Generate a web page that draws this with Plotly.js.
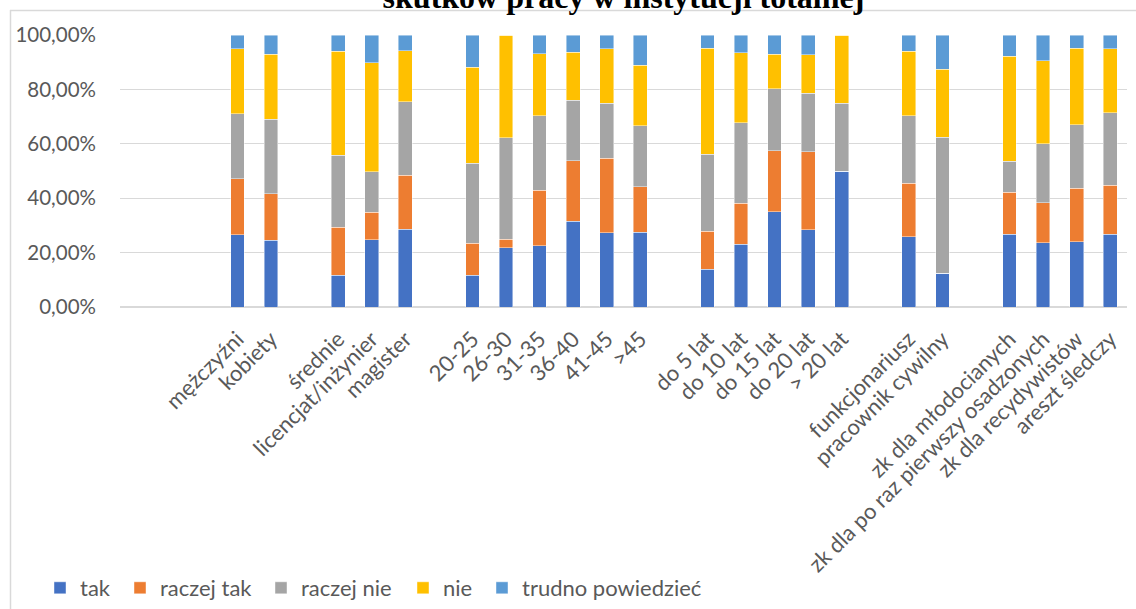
<!DOCTYPE html>
<html>
<head>
<meta charset="utf-8">
<script src="https://cdn.plot.ly/plotly-3.0.1.min.js"></script>
<style>html,body{margin:0;padding:0;background:#fff;}#chart{width:1136px;height:609px;}</style>
</head>
<body>
<div id="chart"></div>
<script>
// Categories (blank strings are the empty gap slots between groups)
var categories = [' ', '  ', '   ', 'mężczyźni', 'kobiety', '    ', 'średnie', 'licencjat/inżynier', 'magister', '     ',
  '20-25', '26-30', '31-35', '36-40', '41-45', '>45', '      ',
  'do 5 lat', 'do 10 lat', 'do 15 lat', 'do 20 lat', '> 20 lat', '       ',
  'funkcjonariusz', 'pracownik cywilny', '        ',
  'zk dla młodocianych', 'zk dla po raz pierwszy osadzonych', 'zk dla recydywistów', 'areszt śledczy'];

var seriesNames = ['tak', 'raczej tak', 'raczej nie', 'nie', 'trudno powiedzieć'];

var tak        = [null, null, null, 26.6, 24.5, null, 11.6, 24.8, 28.6, null, 11.6, 21.7, 22.5, 31.6, 27.3, 27.5, null, 13.8, 23.1, 35.1, 28.4, 50.0, null, 25.9, 12.5, null, 26.7, 23.7, 24.0, 26.7];
var raczejTak  = [null, null, null, 20.6, 17.2, null, 17.7, 10.0, 19.9, null, 11.8, 3.3, 20.5, 22.1, 27.4, 16.7, null, 14.1, 15.1, 22.4, 28.6, 0.0, null, 19.6, 0.0, null, 15.4, 14.7, 19.6, 18.0];
var raczejNie  = [null, null, null, 23.9, 27.3, null, 26.5, 15.0, 27.0, null, 29.4, 37.3, 27.4, 22.4, 20.2, 22.4, null, 28.2, 29.6, 22.7, 21.5, 25.0, null, 24.8, 50.0, null, 11.4, 21.7, 23.4, 26.8];
var nie        = [null, null, null, 23.8, 24.0, null, 38.3, 40.0, 18.7, null, 35.3, 37.7, 22.7, 17.5, 20.0, 22.3, null, 39.1, 25.7, 12.7, 14.3, 25.0, null, 23.8, 25.0, null, 38.7, 30.4, 28.2, 23.4];
var trudno     = [null, null, null, 5.1, 7.0, null, 5.9, 10.2, 5.8, null, 11.9, 0.0, 6.9, 6.4, 5.1, 11.1, null, 4.8, 6.5, 7.1, 7.2, 0.0, null, 5.9, 12.5, null, 7.8, 9.5, 4.8, 5.1];

var yTicks = [0, 20, 40, 60, 80, 100];
var yTickText = yTicks.map(function (v) { return v.toFixed(2).replace('.', ',') + '%'; });

var colors = ['#4472C4', '#ED7D31', '#A5A5A5', '#FFC000', '#5B9BD5'];
var legendWidths = [35, 96, 97, 34, 0];
var allSeries = [tak, raczejTak, raczejNie, nie, trudno];

var fontFamily = 'Lato, "Open Sans", sans-serif';

var traces = allSeries.map(function (vals, i) {
  var t = {
    type: 'bar',
    name: seriesNames[i],
    x: categories,
    y: vals,
    marker: {color: colors[i], line: {color: 'rgba(255,255,255,0.55)', width: 0.8}},
    hoverinfo: 'name+y'
  };
  if (legendWidths[i]) t.legendwidth = legendWidths[i];
  return t;
});

// pixel frame helpers (plot area: x 120..1127, y 35..307)
var L = 120, R = 9, T = 35, B = 302;
var pw = 1136 - L - R, ph = 609 - T - B;
function px(x) { return (x - L) / pw; }
function py(y) { return (609 - B - y) / ph; }

var layout = {
  width: 1136, height: 609,
  margin: {l: L, r: R, t: T, b: B, autoexpand: false},
  paper_bgcolor: '#ffffff', plot_bgcolor: '#ffffff',
  separators: ', ',
  barmode: 'stack',
  bargap: 0.59,
  title: {
    text: 'skutków pracy w instytucji totalnej',
    font: {family: '"Liberation Serif", "Times New Roman", serif', size: 32, color: '#000000', weight: 'bold'},
    xref: 'paper', x: 0.5, xanchor: 'center',
    yref: 'container', y: (609 - 8) / 609, yanchor: 'bottom'
  },
  xaxis: {
    type: 'category',
    categoryorder: 'array', categoryarray: categories,
    tickangle: -45,
    tickfont: {family: fontFamily, size: 22, color: '#595959'},
    ticklabelstandoff: 14,
    showgrid: false, zeroline: false,
    showline: false, ticks: '',
    automargin: false, fixedrange: true
  },
  yaxis: {
    range: [0, 100],
    tickvals: yTicks,
    ticktext: yTickText,
    tickfont: {family: fontFamily, size: 20.5, color: '#595959'},
    showgrid: true, gridcolor: '#D9D9D9', gridwidth: 1.3,
    zeroline: true, zerolinecolor: '#D9D9D9', zerolinewidth: 1.3,
    showline: false, ticks: '',
    ticklabelstandoff: 23,
    automargin: false, fixedrange: true
  },
  showlegend: true,
  legend: {
    orientation: 'h',
    x: px(40), xanchor: 'left',
    y: py(588), yanchor: 'middle',
    font: {family: fontFamily, size: 22, color: '#595959'},
    traceorder: 'normal',
    bgcolor: 'rgba(0,0,0,0)'
  },
  shapes: [
    {type: 'line', xref: 'paper', yref: 'paper', x0: px(10), x1: px(1140), y0: py(10.5), y1: py(10.5), line: {color: '#D9D9D9', width: 1.5}},
    {type: 'line', xref: 'paper', yref: 'paper', x0: px(10.5), x1: px(10.5), y0: py(10), y1: py(612), line: {color: '#D9D9D9', width: 1.5}}
  ]
};

Plotly.newPlot('chart', traces, layout, {displayModeBar: false, staticPlot: true});
</script>
</body>
</html>
